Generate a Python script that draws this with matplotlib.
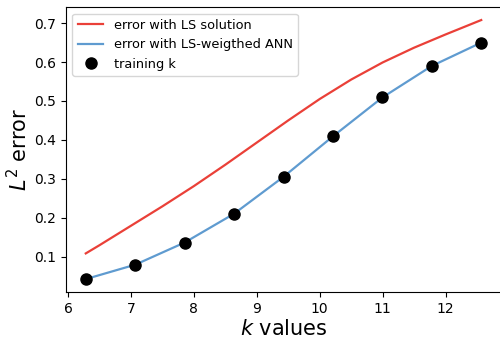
import numpy as np
import matplotlib
matplotlib.use('Agg')
import matplotlib.pyplot as plt

#Valores de k (treino) e erros
k_train = [6.283, 7.069, 7.854, 8.639, 9.425, 10.210, 10.996, 11.781, 12.566]
err_ann = [0.042, 0.079, 0.136, 0.210, 0.305, 0.409, 0.509, 0.590, 0.650]

#Curva do erro com solucao LS
k_ls = [6.283, 6.5, 7.0, 7.5, 8.0, 8.5, 9.0, 9.5, 10.0, 10.5, 11.0, 11.5, 12.0, 12.566]
err_ls = [0.108, 0.129, 0.179, 0.229, 0.281, 0.336, 0.393, 0.450, 0.505, 0.555, 0.599, 0.637, 0.671, 0.708]

fig = plt.figure(figsize=(5, 3.38), dpi=100)
ax = fig.add_axes([0.132, 0.136, 0.87, 0.843])

ax.plot(k_ls, err_ls, color='#ea4038', lw=1.6, label='error with LS solution')
ax.plot(k_train, err_ann, color='#5f9bd0', lw=1.6, label='error with LS-weigthed ANN')
ax.plot(k_train, err_ann, 'o', color='black', ms=8, lw=0, label='training k')

ax.set_xlabel('$k$ values', fontsize=15, labelpad=2)
ax.set_ylabel('$L^2$ error', fontsize=15, labelpad=2)
ax.set_yticks([0.1, 0.2, 0.3, 0.4, 0.5, 0.6, 0.7])
ax.legend(loc='upper left', fontsize=9.3)

plt.savefig('out.png', dpi=100)
